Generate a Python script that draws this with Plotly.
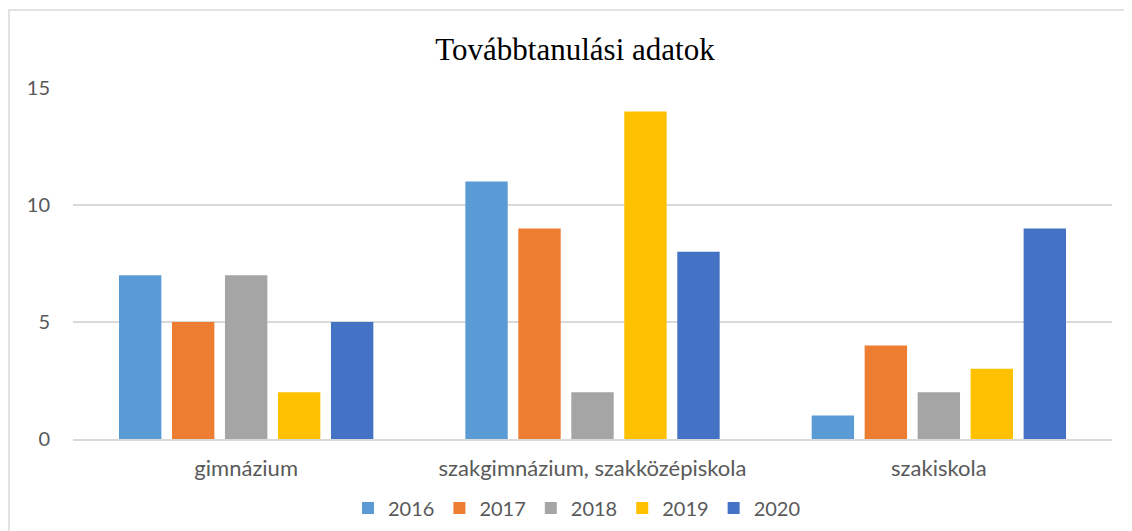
import plotly.graph_objects as go

categories = ["gimnázium", "szakgimnázium, szakközépiskola", "szakiskola"]
years = ["2016", "2017", "2018", "2019", "2020"]
values_2016 = [7, 11, 1]
values_2017 = [5, 9, 4]
values_2018 = [7, 2, 2]
values_2019 = [2, 14, 3]
values_2020 = [5, 8, 9]
series = [values_2016, values_2017, values_2018, values_2019, values_2020]
colors = ["#5B9BD5", "#ED7D31", "#A5A5A5", "#FFC000", "#4472C4"]
y_ticks = [0, 5, 10, 15]

# page body has an 8px margin; figure coordinates = screen - 8
OFF = 8
W, H = 1124, 523
L, R, T, B = 65, 20, 80, 92

fig = go.Figure()
for name, vals, col in zip(years, series, colors):
    fig.add_trace(go.Bar(x=categories, y=vals, name=name, marker=dict(color=col, line=dict(width=0))))

font_family = "Lato, 'Liberation Sans', sans-serif"
pw = W - L - R
ph = H - T - B
fig.update_layout(
    width=W, height=H,
    margin=dict(l=L, r=R, t=T, b=B, autoexpand=False),
    paper_bgcolor="white", plot_bgcolor="white",
    barmode="group", bargap=0.235, bargroupgap=0.2,
    font=dict(family=font_family, size=20, color="#595959"),
    title=dict(text="Továbbtanulási adatok", x=(575 - OFF - L) / pw, xref="paper", xanchor="center",
               y=1 - (49 - OFF) / H, yanchor="middle",
               font=dict(family="'Liberation Serif', 'Times New Roman', serif", size=31, color="black")),
    legend=dict(orientation="h", x=(577 - OFF - L) / pw, xanchor="center",
                y=-(508 - OFF - (T + ph)) / ph, yanchor="middle",
                font=dict(size=20, color="#595959"), traceorder="normal"),
    showlegend=True,
    xaxis=dict(showgrid=False, showline=True, linecolor="#D9D9D9", linewidth=1.5, ticks="",
               tickfont=dict(size=22, color="#595959"), ticklabelstandoff=9),
    yaxis=dict(range=[0, 15], tickvals=y_ticks, showgrid=True, gridcolor="#D9D9D9", gridwidth=1.5,
               zeroline=False, showline=False, ticks="", tickfont=dict(size=20, color="#595959"),
               ticklabelstandoff=22),
    shapes=[dict(type="rect", xref="paper", yref="paper",
                 x0=-(L - 1) / pw, x1=1 + (R + 10) / pw,
                 y0=-(B + 10) / ph, y1=1 + (T - 2) / ph,
                 line=dict(color="#D9D9D9", width=1.5), fillcolor="rgba(0,0,0,0)", layer="below")],
)

fig.write_html("out.html")
